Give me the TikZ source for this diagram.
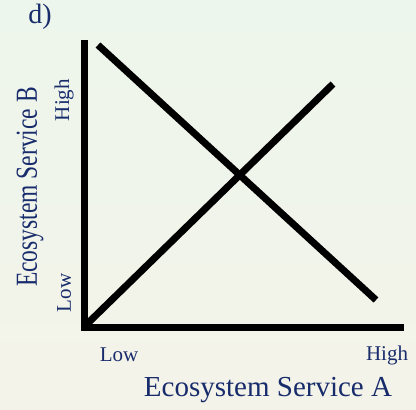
\documentclass[tikz,border=0pt]{standalone}
\usepackage{fontspec}
\setmainfont{Liberation Serif}
\definecolor{navy}{RGB}{24,44,108}
\definecolor{bgtop}{RGB}{237,246,236}
\definecolor{bgbot}{RGB}{244,243,233}
\begin{document}
\begin{tikzpicture}[x=1pt,y=-1pt,
  axis/.style={line width=7pt,black},
  trend/.style={line width=7pt,black},
  lbl/.style={navy,inner sep=0pt},
  tick/.style={lbl,font=\fontsize{21}{21}\selectfont}]
  \shade[top color=bgtop,bottom color=bgbot] (0,0) rectangle (416,410);
  \useasboundingbox (0,0) rectangle (416,410);
  % axes
  \coordinate (top) at (84,40);
  \coordinate (origin) at (84,327);
  \coordinate (right) at (404,327);
  \draw[axis] (top) -- (origin) -- (right);
  % the two trends
  \coordinate (decA) at (98,45);
  \coordinate (decB) at (376,300);
  \coordinate (incA) at (87,324);
  \coordinate (incB) at (333,84);
  \draw[trend] (decA) -- (decB);
  \draw[trend] (incA) -- (incB);
  % labels
  \node[lbl,font=\fontsize{28}{28}\selectfont] (panel) at (40,17) {d)};
  \node[lbl,rotate=90,yscale=1.3,font=\fontsize{23.5}{23.5}\selectfont] (ylab) at (30,187) {Ecosystem Service B};
  \node[lbl,font=\fontsize{29}{29}\selectfont] (xlab) at (268,390) {Ecosystem Service A};
  \node[tick,rotate=90] (yhigh) at (64,100) {High};
  \node[tick,rotate=90] (ylow) at (64,293) {Low};
  \node[tick] (xlow) at (119,355) {Low};
  \node[tick] (xhigh) at (387,355) {High};
\end{tikzpicture}
\end{document}
